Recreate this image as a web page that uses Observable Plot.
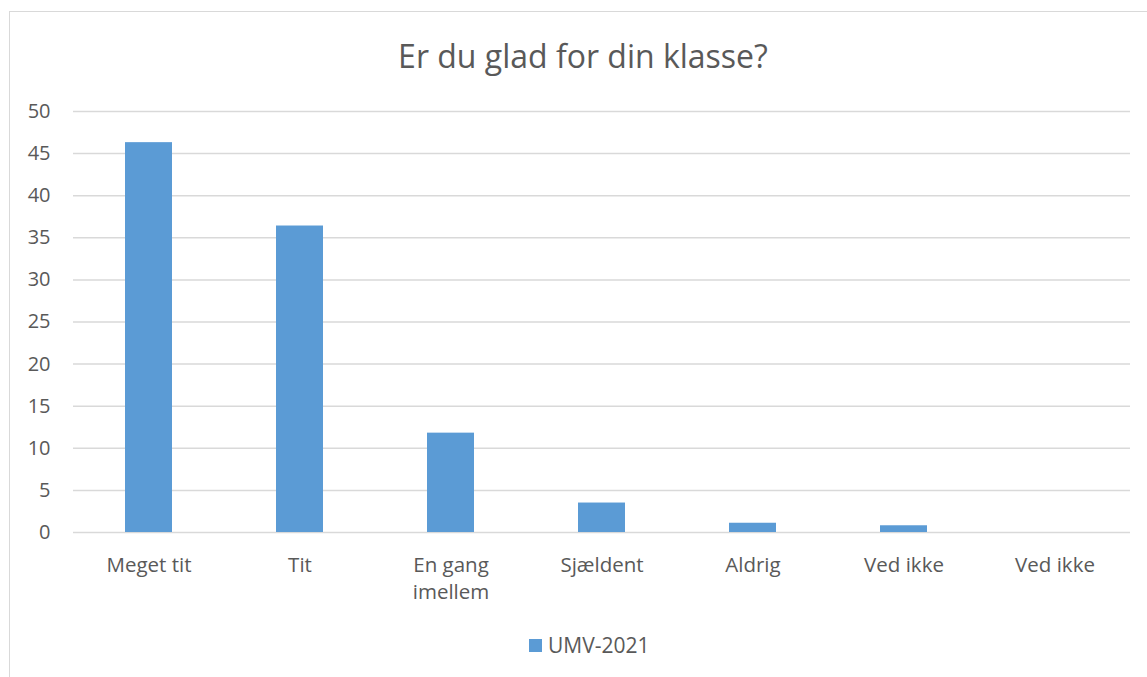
<!DOCTYPE html>
<html>
<head>
<meta charset="utf-8">
<script src="https://cdn.jsdelivr.net/npm/d3@7"></script>
<script src="https://cdn.jsdelivr.net/npm/@observablehq/plot@0.6"></script>
<style>
  html, body { margin: 0; padding: 0; background: #fff; overflow: hidden; }
  #wrap { position: relative; width: 1147px; height: 677px; font-family: "Open Sans", sans-serif; color: #595959; }
  #frame { position: absolute; left: 9px; top: 11px; width: 1160px; height: 690px; border: 1.5px solid #d9d9d9; box-sizing: border-box; }
  #title { position: absolute; left: 9px; width: 1148px; top: 34px; text-align: center; font-size: 32px; line-height: 44px; color: #595959; }
  #chart { position: absolute; left: 0; top: 0; }
  #legend { position: absolute; top: 631px; left: 529px; display: flex; align-items: center; font-size: 21px; color: #595959; }
  #legend .sw { width: 13px; height: 13px; background: #5b9bd5; margin-right: 6px; }
</style>
</head>
<body>
<div id="wrap">
  <div id="frame"></div>
  <div id="title">Er du glad for din klasse?</div>
  <div id="chart"></div>
  <div id="legend"><span class="sw"></span><span id="legtext"></span></div>
</div>
<script>
const categories = ["Meget tit", "Tit", "En gang\nimellem", "Sjældent", "Aldrig", "Ved ikke", "Ved ikke"];
const values = [46.3, 36.4, 11.8, 3.5, 1.1, 0.8, 0];
const seriesName = "UMV-2021";
const yTicks = [0, 5, 10, 15, 20, 25, 30, 35, 40, 45, 50];

const data = categories.map((c, i) => ({idx: i, label: c, value: values[i]}));

document.getElementById("legtext").textContent = seriesName;

const plot = Plot.plot({
  width: 1147,
  height: 620,
  marginLeft: 73,
  marginRight: 17,
  marginTop: 111,
  marginBottom: 88,
  style: {fontFamily: "Open Sans, sans-serif", fontSize: "20px", color: "#595959", background: "transparent"},
  x: {type: "band", domain: d3.range(categories.length), paddingInner: 0.69, paddingOuter: 0.345, label: null},
  y: {domain: [0, 50], label: null},
  marks: [
    Plot.ruleY(yTicks, {stroke: "#d9d9d9", strokeWidth: 1.5}),
    Plot.barY(data, {x: "idx", y: "value", fill: "#5b9bd5"}),
    Plot.axisY({ticks: yTicks, tickSize: 0, tickPadding: 23, label: null, fill: "#595959", fontSize: 20}),
    Plot.axisX({tickSize: 0, tickPadding: 20, label: null, tickFormat: i => categories[i], fill: "#595959", fontSize: 20.5, lineHeight: 1.34})
  ]
});
document.getElementById("chart").appendChild(plot);
</script>
</body>
</html>
